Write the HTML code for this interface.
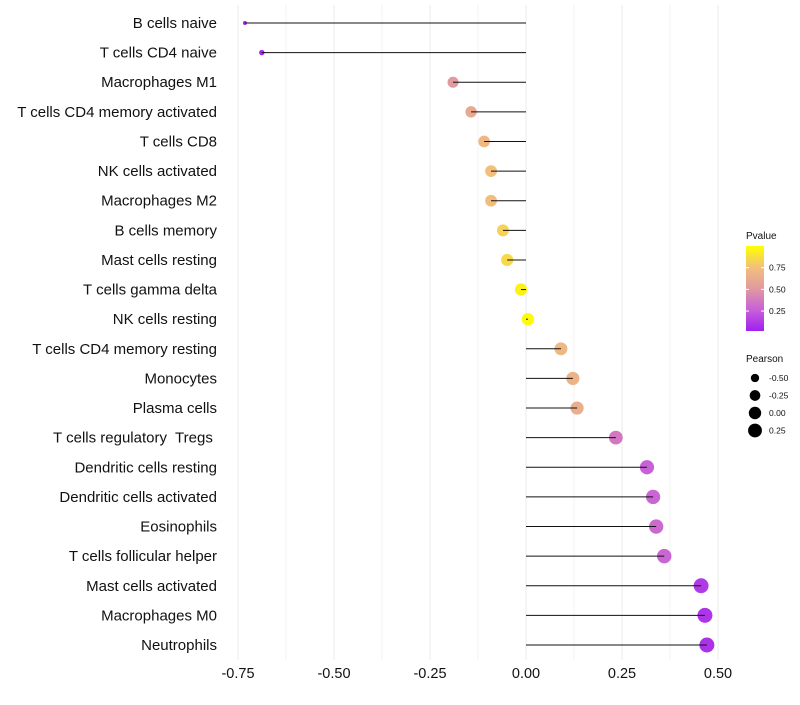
<!DOCTYPE html>
<html><head><meta charset="utf-8"><style>
body{margin:0;background:#fff;font-family:"Liberation Sans",sans-serif;}
svg text{font-family:"Liberation Sans",sans-serif;}
</style></head><body>
<svg id="chart" width="800" height="700" xmlns="http://www.w3.org/2000/svg">
<g id="grid"></g>
<g id="marks"></g>
<g id="ylabels"></g>
<g id="xlabels"></g>
<g id="legend"></g>
</svg>
<script>
const categories=["B cells naive","T cells CD4 naive","Macrophages M1","T cells CD4 memory activated","T cells CD8","NK cells activated","Macrophages M2","B cells memory","Mast cells resting","T cells gamma delta","NK cells resting","T cells CD4 memory resting","Monocytes","Plasma cells","T cells regulatory\u00a0 Tregs\u00a0","Dendritic cells resting","Dendritic cells activated","Eosinophils","T cells follicular helper","Mast cells activated","Macrophages M0","Neutrophils"];
const pearson=[-0.732,-0.688,-0.19,-0.143,-0.109,-0.091,-0.091,-0.06,-0.049,-0.013,0.005,0.091,0.122,0.133,0.234,0.315,0.331,0.339,0.36,0.456,0.466,0.471];
const pvalue=[0.02,0.03,0.5,0.6,0.7,0.75,0.73,0.82,0.85,0.95,0.98,0.7,0.66,0.63,0.35,0.25,0.27,0.29,0.27,0.1,0.08,0.07];
const xTicks=[-0.75,-0.5,-0.25,0,0.25,0.5];
const xTickLabels=["-0.75","-0.50","-0.25","0.00","0.25","0.50"];
const legendPearson=[-0.5,-0.25,0,0.25];
const legendPearsonLabels=["-0.50","-0.25","0.00","0.25"];
const legendP=[0.25,0.5,0.75];
const legendPLabels=["0.25","0.50","0.75"];

const NS="http://www.w3.org/2000/svg";
const x=v=>526+v*384;
const y=i=>23+i*(622/21);
const r=v=>1.5+6*Math.sqrt(Math.max(0,(v+0.74)/1.21));
const stops=[[0,[160,32,240]],[0.25,[200,96,216]],[0.5,[224,154,160]],[0.75,[242,192,122]],[1,[255,255,0]]];
function col(p){for(let k=0;k<stops.length-1;k++){const a=stops[k],b=stops[k+1];if(p<=b[0]){const t=(p-a[0])/(b[0]-a[0]);return "rgb("+a[1].map((c,j)=>Math.round(c+(b[1][j]-c)*t)).join(",")+")";}}return "rgb(255,255,0)";}
function mk(tag,at,parent){const e=document.createElementNS(NS,tag);for(const k in at)e.setAttribute(k,at[k]);parent.appendChild(e);return e;}
const grid=document.getElementById('grid'),marks=document.getElementById('marks'),yl=document.getElementById('ylabels'),xl=document.getElementById('xlabels'),lg=document.getElementById('legend');
for(let v=-0.75;v<=0.5001;v+=0.125){const l=mk('line',{x1:x(v),x2:x(v),y1:5,y2:660,stroke:'#ebebeb','stroke-width':Math.abs(v/0.25-Math.round(v/0.25))<0.01?1:0.6},grid);

}
categories.forEach((c,i)=>{
 const cy=y(i);
 const cir=mk('circle',{cx:x(pearson[i]),cy:cy,r:r(pearson[i]),fill:col(pvalue[i])},marks);
 
 
 const ln=mk('line',{x1:x(0),x2:x(pearson[i]),y1:cy,y2:cy,stroke:'#111','stroke-width':1},marks);
 
 
 const t=mk('text',{x:217,y:cy+5,'text-anchor':'end','font-size':15,fill:'#111'},yl);t.textContent=c;
 
 
});
xTicks.forEach((v,i)=>{const t=mk('text',{x:x(v),y:678,'text-anchor':'middle','font-size':14.5,fill:'#111'},xl);t.textContent=xTickLabels[i];

});
let t=mk('text',{x:746,y:239,'font-size':10,fill:'#111'},lg);t.textContent='Pvalue';


const defs=mk('defs',{},lg);const g=mk('linearGradient',{id:'pg',x1:0,y1:1,x2:0,y2:0},defs);
stops.forEach(s=>mk('stop',{offset:s[0],'stop-color':col(s[0])},g));
const cb=mk('rect',{x:746,y:246,width:18,height:85,fill:'url(#pg)'},lg);


const py=p=>331-(p-0.02)/0.98*85;
legendP.forEach((p,i)=>{mk('line',{x1:746,x2:749,y1:py(p),y2:py(p),stroke:'#fff'},lg);mk('line',{x1:761,x2:764,y1:py(p),y2:py(p),stroke:'#fff'},lg);
const tt=mk('text',{x:769,y:py(p)+3,'font-size':8.5,fill:'#111'},lg);tt.textContent=legendPLabels[i];

});
t=mk('text',{x:746,y:362,'font-size':10,fill:'#111'},lg);t.textContent='Pearson';


legendPearson.forEach((v,i)=>{const cy=378+i*17.5;const c=mk('circle',{cx:755,cy:cy,r:r(v),fill:'#000'},lg);


const tt=mk('text',{x:769,y:cy+3,'font-size':8.5,fill:'#111'},lg);tt.textContent=legendPearsonLabels[i];

});
</script>
</body></html>
